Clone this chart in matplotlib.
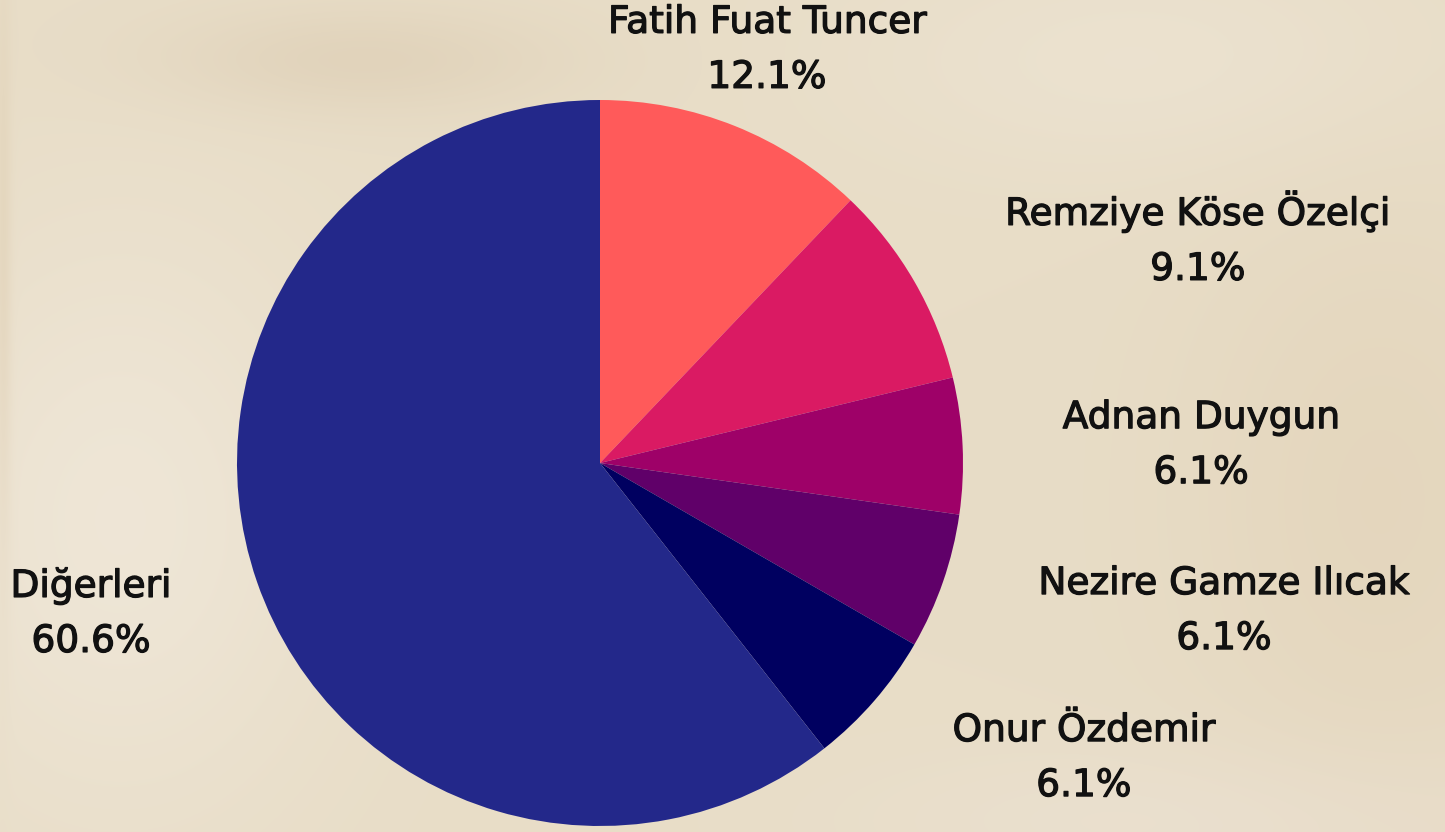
import numpy as np
import matplotlib
matplotlib.use("Agg")
import matplotlib.pyplot as plt
import matplotlib.patheffects as pe

# ---- data ----
names = ["Fatih Fuat Tuncer", "Remziye Köse Özelçi", "Adnan Duygun",
         "Nezire Gamze Ilıcak", "Onur Özdemir", "Diğerleri"]
counts = [4, 3, 2, 2, 2, 20]
colors = ["#FF5A5A", "#DA1A63", "#9E0168", "#600069", "#000060", "#23288A"]

# label anchor positions (in pie radius units): centre x, name baseline y
label_pos = [(0.460, 1.185), (1.647, 0.656), (1.656, 0.096),
             (1.719, -0.361), (1.333, -0.766), (-1.402, -0.369)]

W, H = 1445, 832
fig = plt.figure(figsize=(W / 100, H / 100), dpi=100)

# soft beige background (smooth deterministic gradient)
bg = fig.add_axes([0, 0, 1, 1])
yy, xx = np.mgrid[0:H, 0:W]
base = np.array([232, 221, 199], float) / 255
img = np.ones((H, W, 3)) * base
def blob(cx, cy, sx, sy, col, amp):
    g = np.exp(-(((xx - cx) / sx) ** 2 + ((yy - cy) / sy) ** 2))[..., None]
    return g * amp * (np.array(col, float) / 255 - base)
img += blob(360, 60, 200, 55, (222, 207, 182), 0.7)
img += blob(120, 520, 220, 300, (240, 232, 218), 0.8)
img += blob(1380, 500, 200, 320, (227, 212, 186), 0.7)
img += blob(1150, 60, 300, 120, (237, 228, 211), 0.7)
img += blob(1200, 820, 350, 80, (236, 226, 212), 0.6)
img += blob(3, 300, 8, 300, (224, 208, 180), 0.7)
bg.imshow(np.clip(img, 0, 1), aspect="auto", extent=[0, W, H, 0])
bg.axis("off")

ax = fig.add_axes([0, 0, 1, 1])
ax.patch.set_alpha(0)
cx, cy, R = 600, 463, 363

total = sum(counts)
ax.pie(counts, colors=colors, startangle=90, counterclock=False,
       radius=1.0, center=(0, 0), frame=True,
       wedgeprops=dict(linewidth=0))
ax.set_xlim(-cx / R, (W - cx) / R)
ax.set_ylim(-(H - cy) / R, cy / R)
ax.set_aspect("auto")
ax.axis("off")

fs = 27
line_gap = 55 / R
stroke = [pe.withStroke(linewidth=0.9, foreground="#111111")]
for name, c, (lx, ly) in zip(names, counts, label_pos):
    pct = f"{100 * c / total:.1f}%"
    for s, y in ((name, ly), (pct, ly - line_gap)):
        ax.text(lx, y, s, ha="center", va="baseline", fontsize=fs,
                color="#111111", family="DejaVu Sans", path_effects=stroke)

fig.savefig("out.png", dpi=100)
